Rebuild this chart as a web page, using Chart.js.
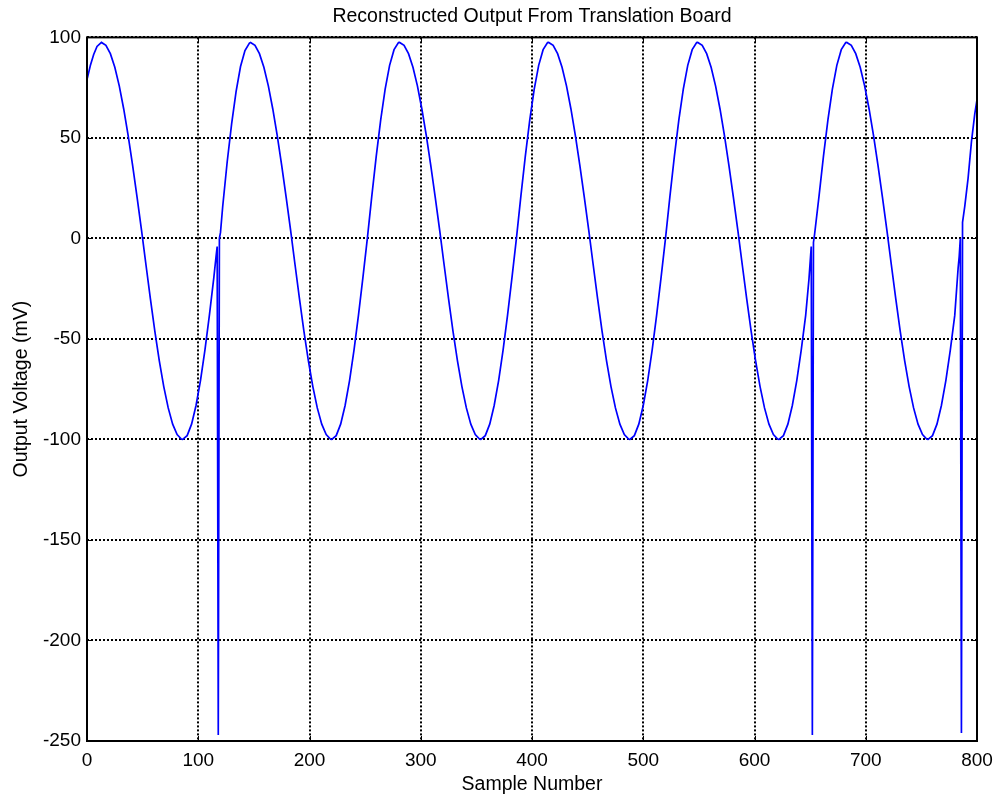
<!DOCTYPE html>
<html>
<head>
<meta charset="utf-8">
<title>Reconstructed Output From Translation Board</title>
<script src="https://cdn.jsdelivr.net/npm/chart.js@4.4.1/dist/chart.umd.min.js"></script>
<style>
  html, body { margin: 0; padding: 0; background: #fff; }
  #chart { display: block; }
</style>
</head>
<body>
<canvas id="chart" width="997" height="795"></canvas>
<script>
// Samples (x = sample number, y = mV)
const sampleNumber = [
  0, 3, 6, 9,
  13, 17, 21, 25, 29, 33, 37, 41, 45, 49, 53, 57, 61, 65, 69, 73, 77, 81, 85, 86,
  90, 94, 98, 102, 106, 110, 114, 116, 117, 118, 119, 120, 122, 126, 130, 134, 138, 142, 146,
  147, 151, 155, 159, 163, 167, 171, 175, 179, 183, 187, 191, 195, 199, 203, 207, 211, 215, 219, 220,
  224, 228, 232, 236, 240, 244, 248, 252, 256, 260, 264, 268, 272, 276, 280,
  281, 285, 289, 293, 297, 301, 305, 309, 313, 317, 321, 325, 329, 333, 337, 341, 345, 349, 353, 354,
  358, 362, 366, 370, 374, 378, 382, 386, 390, 394, 398, 402, 406, 410, 414,
  415, 419, 423, 427, 431, 435, 439, 443, 447, 451, 455, 459, 463, 467, 471, 475, 479, 483, 487, 488,
  492, 496, 500, 504, 508, 512, 516, 520, 524, 528, 532, 536, 540, 544, 548,
  549, 553, 557, 561, 565, 569, 573, 577, 581, 585, 589, 593, 597, 601, 605, 609, 613, 617, 621, 622,
  626, 630, 634, 638, 642, 646, 649, 651, 652, 653, 654, 658, 662, 666, 670, 674, 678, 682,
  683, 687, 691, 695, 699, 703, 707, 711, 715, 719, 723, 727, 731, 735, 739, 743, 747, 751, 755, 756,
  760, 764, 768, 772, 776, 780, 783, 784, 785, 786, 787, 789, 792, 795, 798, 800
];
const outputVoltage = [
  79, 86, 91.5, 95.5,
  97.5, 96.1, 91.9, 85.1, 75.9, 64.4, 51.1, 36.3, 20.5, 4.1, -13.1, -30.1, -46.2, -60.9, -73.7, -84.3, -92.4, -97.6, -99.9, -100,
  -98.1, -92.4, -83.1, -70.7, -55.6, -38.3, -19.5, -9, -4, -247, 0, 3, 16, 38, 57, 73, 85.5, 93.5, 97.2,
  97.5, 96.1, 91.9, 85.1, 75.9, 64.4, 51.1, 36.3, 20.5, 4.1, -13.1, -30.1, -46.2, -60.9, -73.7, -84.3, -92.4, -97.6, -99.9, -100,
  -98.1, -92.4, -83.1, -70.7, -55.6, -38.3, -19.5, 0, 21.0, 40.9, 59.0, 74.3, 86.1, 93.9, 97.4,
  97.5, 96.1, 91.9, 85.1, 75.9, 64.4, 51.1, 36.3, 20.5, 4.1, -13.1, -30.1, -46.2, -60.9, -73.7, -84.3, -92.4, -97.6, -99.9, -100,
  -98.1, -92.4, -83.1, -70.7, -55.6, -38.3, -19.5, 0, 21.0, 40.9, 59.0, 74.3, 86.1, 93.9, 97.4,
  97.5, 96.1, 91.9, 85.1, 75.9, 64.4, 51.1, 36.3, 20.5, 4.1, -13.1, -30.1, -46.2, -60.9, -73.7, -84.3, -92.4, -97.6, -99.9, -100,
  -98.1, -92.4, -83.1, -70.7, -55.6, -38.3, -19.5, 0, 21.0, 40.9, 59.0, 74.3, 86.1, 93.9, 97.4,
  97.5, 96.1, 91.9, 85.1, 75.9, 64.4, 51.1, 36.3, 20.5, 4.1, -13.1, -30.1, -46.2, -60.9, -73.7, -84.3, -92.4, -97.6, -99.9, -100,
  -98.1, -92.4, -83.1, -70.7, -55.6, -38.3, -20, -4, -247, -2, 2, 21.0, 40.9, 59.0, 74.3, 86.1, 93.9, 97.4,
  97.5, 96.1, 91.9, 85.1, 75.9, 64.4, 51.1, 36.3, 20.5, 4.1, -13.1, -30.1, -46.2, -60.9, -73.7, -84.3, -92.4, -97.6, -99.9, -100,
  -98.1, -92.4, -83.1, -70.7, -55.6, -38.3, -15, -9, 0, -246, 8, 16, 30, 48, 62, 69
];
const xTicks = [0, 100, 200, 300, 400, 500, 600, 700, 800];
const yTicks = [-250, -200, -150, -100, -50, 0, 50, 100];

const FONT = "'Liberation Sans', Arial, sans-serif";

// black box round the plot + short inward tick marks (matlab style)
const frame = {
  id: 'frame',
  afterDraw(chart) {
    const { ctx, chartArea: a, scales: { x, y } } = chart;
    ctx.save();
    ctx.strokeStyle = '#000';
    ctx.lineWidth = 1;
    ctx.beginPath();
    xTicks.forEach(v => {
      const px = Math.round(x.getPixelForValue(v)) + 0.5;
      ctx.moveTo(px, a.bottom); ctx.lineTo(px, a.bottom - 5);
      ctx.moveTo(px, a.top); ctx.lineTo(px, a.top + 5);
    });
    yTicks.forEach(v => {
      const py = Math.round(y.getPixelForValue(v)) + 0.5;
      ctx.moveTo(a.left, py); ctx.lineTo(a.left + 5, py);
      ctx.moveTo(a.right, py); ctx.lineTo(a.right - 5, py);
    });
    ctx.stroke();
    ctx.lineWidth = 2;
    ctx.strokeRect(a.left, a.top, a.right - a.left, a.bottom - a.top);
    ctx.restore();
  }
};

const gridStyle = {
  color: '#000',
  lineWidth: 2,
  drawTicks: false,
};

new Chart(document.getElementById('chart'), {
  type: 'line',
  data: {
    datasets: [{
      data: sampleNumber.map((s, i) => ({ x: s, y: outputVoltage[i] })),
      borderColor: '#0000ff',
      borderWidth: 1.7,
      pointRadius: 0,
      tension: 0,
      fill: false,
    }],
  },
  options: {
    responsive: false,
    devicePixelRatio: 1,
    animation: false,
    layout: { padding: { top: 0, right: 20, bottom: 0, left: 0 } },
    scales: {
      x: {
        type: 'linear',
        min: 0,
        max: 800,
        afterBuildTicks: s => { s.ticks = xTicks.map(v => ({ value: v })); },
        afterFit: s => { s.height = 54; s.paddingLeft = 0; s.paddingRight = 0; },
        grid: { ...gridStyle },
        border: { display: false, dash: [2, 2] },
        ticks: {
          color: '#000',
          padding: 8,
          maxRotation: 0,
          font: { family: FONT, size: 19 },
          callback: v => String(v),
        },
        title: {
          display: true,
          text: 'Sample Number',
          color: '#000',
          font: { family: FONT, size: 19.5, lineHeight: 1.1 },
          padding: { top: 0, bottom: 0 },
        },
      },
      y: {
        type: 'linear',
        min: -250,
        max: 100,
        afterBuildTicks: s => { s.ticks = yTicks.map(v => ({ value: v })); },
        afterFit: s => { s.width = 87; },
        grid: { ...gridStyle },
        border: { display: false, dash: [2, 2] },
        ticks: {
          color: '#000',
          padding: 6,
          font: { family: FONT, size: 19 },
          callback: v => String(v),
        },
        title: {
          display: true,
          text: 'Output Voltage (mV)',
          color: '#000',
          font: { family: FONT, size: 19.5, lineHeight: 1.2 },
          padding: { top: 10, bottom: 0 },
        },
      },
    },
    plugins: {
      legend: { display: false },
      tooltip: { enabled: false },
      title: {
        display: true,
        fullSize: false,
        text: 'Reconstructed Output From Translation Board',
        color: '#000',
        font: { family: FONT, size: 19.5, weight: 'normal', lineHeight: 1.2 },
        padding: { top: 5, bottom: 9 },
      },
    },
  },
  plugins: [frame],
});
</script>
</body>
</html>
